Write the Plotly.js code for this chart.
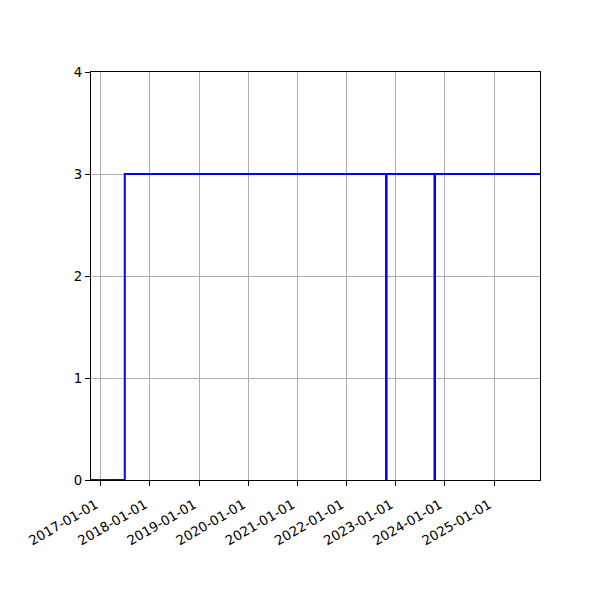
<!DOCTYPE html>
<html>
<head>
<meta charset="utf-8">
<script src="https://cdn.plot.ly/plotly-3.0.1.min.js"></script>
<style>body{margin:0;background:#fff}</style>
</head>
<body>
<div id="myDiv" style="width:600px;height:600px"></div>
<script>
// step data
var dates = ['2016-10-20', '2017-06-28', '2022-10-21', '2022-10-25', '2023-10-16', '2023-10-20', '2025-12-08'];
var values = [0, 3, 0, 3, 0, 3, 3];

var data = [{
    x: dates,
    y: values,
    mode: 'lines',
    type: 'scatter',
    line: {shape: 'hv', color: '#0000ff', width: 2}
}];

var axisStyle = {
    showline: true,
    linecolor: '#000',
    linewidth: 1,
    mirror: true,
    ticks: 'outside',
    ticklen: 5,
    tickcolor: '#000',
    showgrid: true,
    gridcolor: '#b0b0b0',
    gridwidth: 1,
    zeroline: false
};

var layout = {
    width: 600,
    height: 600,
    margin: {l: 91, r: 60, t: 72, b: 120},
    paper_bgcolor: '#fff',
    plot_bgcolor: '#fff',
    showlegend: false,
    font: {family: 'DejaVu Sans', size: 13.3, color: '#000'},
    xaxis: Object.assign({}, axisStyle, {
        type: 'date',
        range: ['2016-10-20', '2025-12-08'],
        tick0: '2017-01-01',
        dtick: 'M12',
        tickformat: '%Y-%m-%d',
        tickangle: -30,
        ticklabelstandoff: 6,
        ticklabelshift: -5
    }),
    yaxis: Object.assign({}, axisStyle, {
        range: [0, 4],
        tickvals: [0, 1, 2, 3, 4]
    })
};

Plotly.newPlot('myDiv', data, layout, {displayModeBar: false});
</script>
</body>
</html>
